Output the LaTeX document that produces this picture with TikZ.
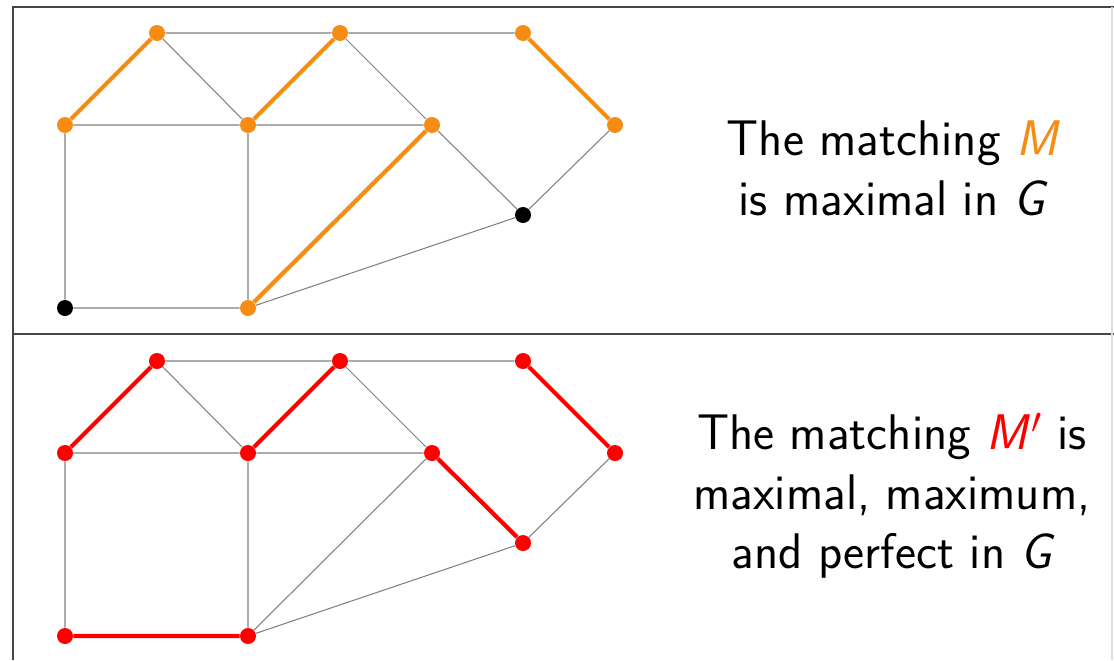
\documentclass[tikz,border=0pt]{standalone}
\usepackage{xcolor}
\usepackage{tikz}
\usetikzlibrary{calc,positioning}
\definecolor{matchorange}{RGB}{247,140,20}
\definecolor{framegray}{RGB}{70,70,70}

\begin{document}
\begin{tikzpicture}[x=0.02cm, y=-0.02cm,
    vert/.style={circle, fill=black, inner sep=0pt, minimum size=0.32cm},
    edge/.style={draw=gray, line width=0.6pt},
    medge/.style={line width=2.4pt},
    caption/.style={align=center, font=\sffamily\fontsize{28.5}{34}\selectfont}]
            \useasboundingbox (0,0) rectangle (1114,660);
            % frame
            \draw[framegray, line width=1.6pt] (13,660) -- (13,7) -- (1114,7);
            \draw[framegray, line width=1.6pt] (13,334) -- (1114,334);
            \draw[gray!25, line width=0.6pt] (1112,7) -- (1112,660);

            % upper panel: matching M
            \node[vert, fill=matchorange] (a1) at (65,125) {};
            \node[vert, fill=matchorange] (b1) at (157,33) {};
            \node[vert, fill=matchorange] (c1) at (248,125) {};
            \node[vert, fill=matchorange] (d1) at (340,33) {};
            \node[vert, fill=matchorange] (e1) at (432,125) {};
            \node[vert, fill=matchorange] (f1) at (523,33) {};
            \node[vert, fill=matchorange] (g1) at (615,125) {};
            \node[vert] (h1) at (523,215) {};
            \node[vert] (i1) at (65,308) {};
            \node[vert, fill=matchorange] (j1) at (248,308) {};
            \draw[edge] (b1) -- (c1) (b1) -- (d1) -- (f1);
            \draw[edge] (a1) -- (c1) -- (e1) (d1) -- (e1) -- (h1) -- (g1);
            \draw[edge] (a1) -- (i1) -- (j1) -- (c1) (j1) -- (h1);
            \draw[medge, matchorange] (a1) -- (b1) (c1) -- (d1) (f1) -- (g1) (j1) -- (e1);
            \node[caption] (t1) at (892,168) {The matching {\color{matchorange}\itshape M}\\is maximal in {\itshape G}};

            % lower panel: matching M'
            \node[vert, fill=red] (a2) at (65,453) {};
            \node[vert, fill=red] (b2) at (157,361) {};
            \node[vert, fill=red] (c2) at (248,453) {};
            \node[vert, fill=red] (d2) at (340,361) {};
            \node[vert, fill=red] (e2) at (432,453) {};
            \node[vert, fill=red] (f2) at (523,361) {};
            \node[vert, fill=red] (g2) at (615,453) {};
            \node[vert, fill=red] (h2) at (523,543) {};
            \node[vert, fill=red] (i2) at (65,636) {};
            \node[vert, fill=red] (j2) at (248,636) {};
            \draw[edge] (b2) -- (c2) (b2) -- (d2) -- (f2);
            \draw[edge] (a2) -- (c2) -- (e2) (d2) -- (e2) (h2) -- (g2);
            \draw[edge] (a2) -- (i2) (j2) -- (c2) (j2) -- (e2) (j2) -- (h2);
            \draw[medge, red] (a2) -- (b2) (c2) -- (d2) (f2) -- (g2) (e2) -- (h2) (i2) -- (j2);
            \node[caption] (t2) at (892,496) {The matching {\color{red}\itshape M\kern2pt$'$} is\\maximal, maximum,\\and perfect in {\itshape G}};
          \end{tikzpicture}
\end{document}
